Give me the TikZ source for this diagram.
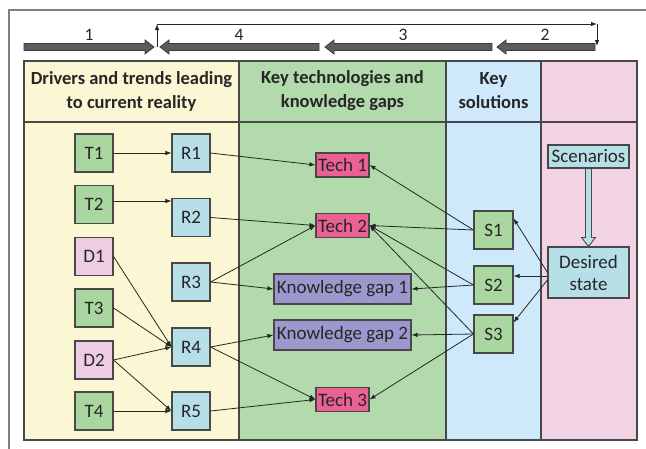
\documentclass[tikz,border=0pt]{standalone}
\usepackage{fontspec}
\setmainfont{Carlito}
\usetikzlibrary{arrows.meta,calc}

\definecolor{colYellow}{RGB}{251,247,212}
\definecolor{colGreen}{RGB}{179,218,172}
\definecolor{colBlue}{RGB}{206,233,250}
\definecolor{colPink}{RGB}{241,211,228}
\definecolor{boxGreen}{RGB}{170,214,160}
\definecolor{boxCyan}{RGB}{183,223,232}
\definecolor{boxPink}{RGB}{238,205,228}
\definecolor{techPink}{RGB}{235,97,147}
\definecolor{gapPurple}{RGB}{156,151,204}
\definecolor{edgeGrey}{RGB}{72,72,72}
\definecolor{barFill}{RGB}{92,92,92}
\definecolor{barEdge}{RGB}{60,60,60}
\definecolor{frameGrey}{RGB}{128,128,128}

\begin{document}
\begin{tikzpicture}[x=1pt,y=-1pt,
  nodefont/.style={font=\fontsize{19}{22}\selectfont},
  basebox/.style={draw=edgeGrey, line width=1.1pt, inner sep=0pt, nodefont, text=black!85},
  sqbox/.style={basebox, minimum width=38pt, minimum height=38pt},
  trendbox/.style={sqbox, fill=boxGreen},
  driverbox/.style={sqbox, fill=boxPink},
  realbox/.style={sqbox, fill=boxCyan},
  solbox/.style={sqbox, fill=boxGreen, minimum width=39pt},
  techbox/.style={basebox, fill=techPink, minimum width=53pt, minimum height=24pt},
  gapbox/.style={basebox, fill=gapPurple, minimum width=137pt, minimum height=30pt},
  statebox/.style={basebox, fill=boxCyan, minimum width=81pt, align=center},
  column/.style={draw=edgeGrey, line width=1.2pt},
  header/.style={font=\fontsize{18.5}{24}\selectfont\bfseries, align=center, text=black!85},
  conn/.style={draw=black!85, line width=0.8pt, -{Latex[length=6pt,width=4.5pt]}},
  bracket/.style={draw=black!85, line width=0.8pt, -{Latex[length=6pt,width=4.5pt]}},
  bar/.style={fill=barFill, draw=barEdge, line width=0.8pt},
  barlabel/.style={font=\fontsize{17.5}{20}\selectfont, text=black!85}
]
\useasboundingbox (0,0) rectangle (646,448);

% outer frame (open towards the right and bottom)
\draw[frameGrey, line width=1.4pt] (9,460) -- (9,10) -- (660,10);

% table columns
\path[column, fill=colYellow] (24,61) rectangle (239,440);
\path[column, fill=colGreen]  (239,61) rectangle (446,440);
\path[column, fill=colBlue]   (446,61) rectangle (541,440);
\path[column, fill=colPink]   (541,61) rectangle (637,440);
\draw[edgeGrey, line width=1.2pt] (24,122) -- (637,122);

% column headings
\node[header] (h1) at (131.5,91) {Drivers and trends leading\\to current reality};
\node[header] (h2) at (342.5,91) {Key technologies and\\knowledge gaps};
\node[header] (h3) at (493.5,91) {Key\\solutions};

% block arrows along the top
\path[bar] (24,43.5) -- (145,43.5) -- (145,40) -- (154,47) -- (145,54) -- (145,50.5) -- (24,50.5) -- cycle;
\path[bar] (319,43.5) -- (169,43.5) -- (169,40) -- (160,47) -- (169,54) -- (169,50.5) -- (319,50.5) -- cycle;
\path[bar] (492,43.5) -- (334,43.5) -- (334,40) -- (325,47) -- (334,54) -- (334,50.5) -- (492,50.5) -- cycle;
\path[bar] (595,43.5) -- (506,43.5) -- (506,40) -- (497,47) -- (506,54) -- (506,50.5) -- (595,50.5) -- cycle;
\node[barlabel] (l1) at (89,35) {1};
\node[barlabel] (l4) at (239,35) {4};
\node[barlabel] (l3) at (403,35) {3};
\node[barlabel] (l2) at (545,35) {2};

% feedback bracket
\coordinate (b0) at (157,47);
\coordinate (b1) at (157,24);
\coordinate (b2) at (597,24);
\coordinate (b3) at (597,46);
\draw[bracket] (b0) -- (b1);
\draw[bracket] (b1) -- (b2);
\draw[bracket] (b2) -- (b3);

% drivers and trends
\node[trendbox]  (T1) at (94,153) {T1};
\node[trendbox]  (T2) at (94,204.5) {T2};
\node[driverbox] (D1) at (94,256.5) {D1};
\node[trendbox]  (T3) at (94,308) {T3};
\node[driverbox] (D2) at (94,360) {D2};
\node[trendbox]  (T4) at (94,411) {T4};

% current reality
\node[realbox] (R1) at (191,153) {R1};
\node[realbox] (R2) at (191,217.5) {R2};
\node[realbox] (R3) at (191,282) {R3};
\node[realbox] (R4) at (191,347) {R4};
\node[realbox] (R5) at (191,411) {R5};

% technologies and knowledge gaps
\node[techbox] (Tech1) at (342.5,165) {Tech 1};
\node[techbox] (Tech2) at (342.5,225.5) {Tech 2};
\node[gapbox]  (KG1)   at (342.5,289) {Knowledge gap 1};
\node[gapbox]  (KG2)   at (342.5,335) {Knowledge gap 2};
\node[techbox] (Tech3) at (342.5,399.5) {Tech 3};

% solutions
\node[solbox] (S1) at (493.5,230) {S1};
\node[solbox] (S2) at (493.5,285) {S2};
\node[solbox] (S3) at (493.5,334) {S3};

% scenarios and desired state
\node[statebox, minimum height=23pt] (Scen) at (588.5,156.5) {Scenarios};
\node[statebox, minimum height=51pt] (Des) at (588.5,272.5) {Desired\\state};

% hollow arrow from scenarios to desired state
\path[fill=boxCyan, draw=edgeGrey, line width=0.9pt]
  ($(Scen.south)+(-3,0)$) -- ($(Des.north)+(-3,-9)$) -- ($(Des.north)+(-7,-9)$)
  -- (Des.north) -- ($(Des.north)+(7,-9)$) -- ($(Des.north)+(3,-9)$)
  -- ($(Scen.south)+(3,0)$) -- cycle;

% drivers and trends to current reality
\draw[conn] (T1.east) -- (T1.east -| R1.west);
\draw[conn] ($(T2.east)+(0,-3.5)$) -- ($(T2.east -| R2.west)+(0,-3.5)$);
\draw[conn] (D1.east) -- (R4.west);
\draw[conn] (T3.east) -- (R4.west);
\draw[conn] (D2.east) -- (R4.west);
\draw[conn] (D2.east) -- (R5.west);
\draw[conn] (T4.east) -- (R5.west);

% current reality to technologies and gaps
\draw[conn] (R1.east) -- (Tech1.west);
\draw[conn] (R2.east) -- (Tech2.west);
\draw[conn] (R3.east) -- (Tech2.west);
\draw[conn] (R3.east) -- (KG1.west);
\draw[conn] (R4.east) -- (KG2.west);
\draw[conn] (R4.east) -- (Tech3.west);
\draw[conn] (R5.east) -- (Tech3.west);

% solutions to technologies and gaps
\draw[conn] (S1.west) -- (Tech1.east);
\draw[conn] (S1.west) -- (Tech2.east);
\draw[conn] (S2.west) -- (Tech2.east);
\draw[conn] (S2.west) -- (KG1.east);
\draw[conn] (S3.west) -- (Tech2.east);
\draw[conn] (S3.west) -- (KG2.east);
\draw[conn] (S3.west) -- (Tech3.east);

% desired state to solutions
\coordinate (dw2) at ($(Des.west)+(0,3.5)$);
\coordinate (dw3) at ($(Des.west)+(0,7.5)$);
\draw[conn] (Des.west) -- (S1.30);
\draw[conn] (dw2) -- (dw2 -| S2.east);
\draw[conn] (dw3) -- (S3.30);
\end{tikzpicture}
\end{document}
